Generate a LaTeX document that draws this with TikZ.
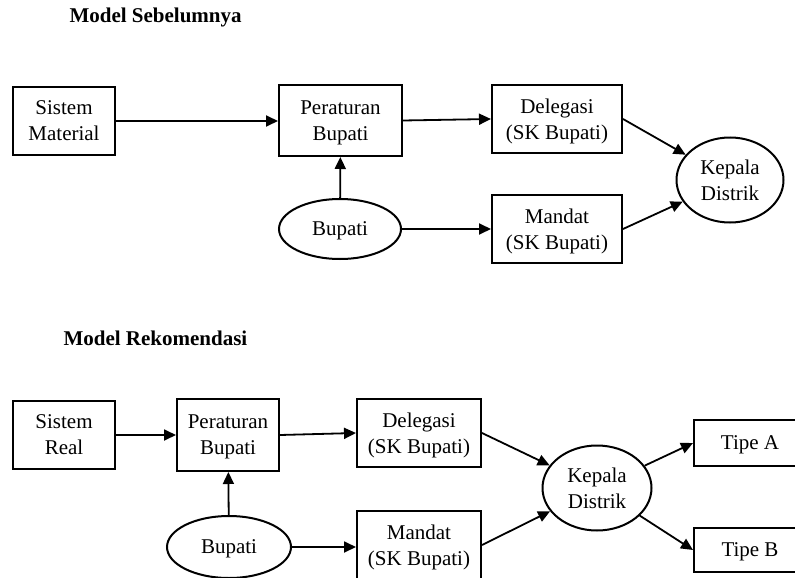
\documentclass[tikz,border=0pt]{standalone}
\usepackage{fontspec}
\setmainfont{Liberation Serif}
\usetikzlibrary{arrows.meta,shapes.geometric,positioning}

\begin{document}
\begin{tikzpicture}[
    x=1pt, y=-1pt,
    every node/.style={font=\fontsize{21}{26}\selectfont},
    box/.style={draw, line width=2pt, inner sep=0pt, text depth=0pt, align=center},
    oval/.style={draw, ellipse, line width=2pt, inner sep=0pt, text depth=0pt, align=center},
    title/.style={anchor=west, font=\fontsize{21}{26}\selectfont\bfseries},
    arr/.style={-{Triangle[length=12pt,width=11pt]}, line width=1.8pt}
]
\useasboundingbox (0,0) rectangle (795,578);
\clip (0,0) rectangle (795,578);

% model sebelumnya
\node[title] (t1) at (66,17) {Model Sebelumnya};
\node[box, minimum width=102pt, minimum height=68pt] (sm) at (64,121) {Sistem\\Material};
\node[box, minimum width=123pt, minimum height=71pt] (pb1) at (340.5,120.5) {Peraturan\\Bupati};
\node[box, minimum width=130pt, minimum height=68pt] (del1) at (557,119) {Delegasi\\(SK Bupati)};
\node[box, minimum width=130pt, minimum height=68pt] (man1) at (557,229) {Mandat\\(SK Bupati)};
\node[oval, minimum width=122pt, minimum height=60pt] (bup1) at (340,229) {Bupati};
\node[oval, minimum width=107pt, minimum height=85pt] (kd1) at (730,180) {Kepala\\Distrik};

\draw[arr] (sm) -- (sm -| pb1.west);
\draw[arr] (pb1.east) -- (del1.west);
\draw[arr] (bup1) -- (pb1);
\draw[arr] (bup1) -- (bup1 -| man1.west);
\draw[arr] (del1.east) -- (kd1);
\draw[arr] (man1.east) -- (kd1);

% model rekomendasi
\node[title] (t2) at (60,338) {Model Rekomendasi};
\node[box, minimum width=102pt, minimum height=68pt] (sr) at (64,435) {Sistem\\Real};
\node[box, minimum width=102pt, minimum height=72pt] (pb2) at (228,435) {Peraturan\\Bupati};
\node[box, minimum width=124pt, minimum height=68pt] (del2) at (419,433) {Delegasi\\(SK Bupati)};
\node[box, minimum width=124pt, minimum height=68pt] (man2) at (419,545) {Mandat\\(SK Bupati)};
\node[oval, minimum width=124pt, minimum height=62pt] (bup2) at (229,547) {Bupati};
\node[oval, minimum width=109pt, minimum height=85pt] (kd2) at (597,488) {Kepala\\Distrik};
\node[box, minimum width=112pt, minimum height=46pt] (ta) at (750,443) {Tipe A};
\node[box, minimum width=112pt, minimum height=44pt] (tb) at (750,550) {Tipe B};

\draw[arr] (sr) -- (pb2);
\draw[arr] (pb2.east) -- (del2.west);
\draw[arr] (bup2) -- (pb2);
\draw[arr] (bup2) -- (bup2 -| man2.west);
\draw[arr] (del2.east) -- (kd2);
\draw[arr] (man2.east) -- (kd2);
\draw[arr] (kd2) -- (ta.west);
\draw[arr] (kd2) -- (tb.west);
\end{tikzpicture}
\end{document}
